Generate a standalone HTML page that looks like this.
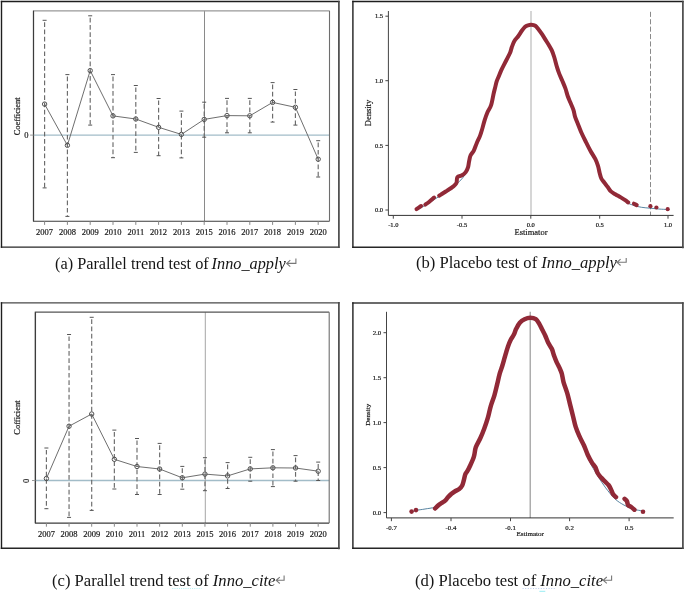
<!DOCTYPE html>
<html><head><meta charset="utf-8"><style>
html,body{margin:0;padding:0;background:#fff;}
body{width:685px;height:592px;position:relative;overflow:hidden;}
svg{position:absolute;left:0;top:0;will-change:transform;}
.cap{will-change:transform;}
svg text{stroke:#1a1a1a;stroke-width:0.2px;}
.cap{position:absolute;font-family:'Liberation Serif',serif;font-size:16.6px;color:#151515;white-space:nowrap;line-height:16.6px;height:17px;}
</style></head><body>
<svg width="685" height="592" viewBox="0 0 685 592">
<line x1="1.5" y1="1.5" x2="338.9" y2="1.5" stroke="#1e1e1e" stroke-width="1.4" stroke-linecap="square"/>
<line x1="1.5" y1="247.1" x2="338.9" y2="247.1" stroke="#262626" stroke-width="1.4" stroke-linecap="square"/>
<line x1="1.5" y1="1.5" x2="1.5" y2="247.1" stroke="#1e1e1e" stroke-width="1.4" stroke-linecap="square"/>
<line x1="338.9" y1="1.5" x2="338.9" y2="247.1" stroke="#4a4a4a" stroke-width="1.7" stroke-linecap="square"/>
<line x1="33.5" y1="135.1" x2="329.5" y2="135.1" stroke="#a2bcc8" stroke-width="1.3"/>
<line x1="204.50" y1="10.8" x2="204.50" y2="221.3" stroke="#8a8a8a" stroke-width="1"/>
<path d="M33.5,221.3 V10.8 H329.5" fill="none" stroke="#999" stroke-width="1.3"/>
<path d="M33.5,10.8 V221.3 H329.5" fill="none" stroke="#3c3c3c" stroke-width="1.1"/>
<line x1="329.5" y1="10.8" x2="329.5" y2="221.3" stroke="#6e6e6e" stroke-width="1.1"/>
<line x1="30.1" y1="135.1" x2="33.5" y2="135.1" stroke="#999" stroke-width="1"/>
<text x="26.3" y="138.3" style="font-family:'Liberation Serif',serif;font-size:8.5px" text-anchor="middle" fill="#222">0</text>
<text transform="translate(19.8,116.3) rotate(-90)" style="font-family:'Liberation Serif',serif;font-size:8.5px" text-anchor="middle" fill="#222">Coefficient</text>
<line x1="44.60" y1="221.3" x2="44.60" y2="224.9" stroke="#888" stroke-width="1"/>
<text x="44.60" y="235.4" style="font-family:'Liberation Serif',serif;font-size:8.5px" text-anchor="middle" fill="#1a1a1a">2007</text>
<line x1="67.40" y1="221.3" x2="67.40" y2="224.9" stroke="#888" stroke-width="1"/>
<text x="67.40" y="235.4" style="font-family:'Liberation Serif',serif;font-size:8.5px" text-anchor="middle" fill="#1a1a1a">2008</text>
<line x1="90.20" y1="221.3" x2="90.20" y2="224.9" stroke="#888" stroke-width="1"/>
<text x="90.20" y="235.4" style="font-family:'Liberation Serif',serif;font-size:8.5px" text-anchor="middle" fill="#1a1a1a">2009</text>
<line x1="113.00" y1="221.3" x2="113.00" y2="224.9" stroke="#888" stroke-width="1"/>
<text x="113.00" y="235.4" style="font-family:'Liberation Serif',serif;font-size:8.5px" text-anchor="middle" fill="#1a1a1a">2010</text>
<line x1="135.80" y1="221.3" x2="135.80" y2="224.9" stroke="#888" stroke-width="1"/>
<text x="135.80" y="235.4" style="font-family:'Liberation Serif',serif;font-size:8.5px" text-anchor="middle" fill="#1a1a1a">2011</text>
<line x1="158.60" y1="221.3" x2="158.60" y2="224.9" stroke="#888" stroke-width="1"/>
<text x="158.60" y="235.4" style="font-family:'Liberation Serif',serif;font-size:8.5px" text-anchor="middle" fill="#1a1a1a">2012</text>
<line x1="181.40" y1="221.3" x2="181.40" y2="224.9" stroke="#888" stroke-width="1"/>
<text x="181.40" y="235.4" style="font-family:'Liberation Serif',serif;font-size:8.5px" text-anchor="middle" fill="#1a1a1a">2013</text>
<line x1="204.20" y1="221.3" x2="204.20" y2="224.9" stroke="#888" stroke-width="1"/>
<text x="204.20" y="235.4" style="font-family:'Liberation Serif',serif;font-size:8.5px" text-anchor="middle" fill="#1a1a1a">2015</text>
<line x1="227.00" y1="221.3" x2="227.00" y2="224.9" stroke="#888" stroke-width="1"/>
<text x="227.00" y="235.4" style="font-family:'Liberation Serif',serif;font-size:8.5px" text-anchor="middle" fill="#1a1a1a">2016</text>
<line x1="249.80" y1="221.3" x2="249.80" y2="224.9" stroke="#888" stroke-width="1"/>
<text x="249.80" y="235.4" style="font-family:'Liberation Serif',serif;font-size:8.5px" text-anchor="middle" fill="#1a1a1a">2017</text>
<line x1="272.60" y1="221.3" x2="272.60" y2="224.9" stroke="#888" stroke-width="1"/>
<text x="272.60" y="235.4" style="font-family:'Liberation Serif',serif;font-size:8.5px" text-anchor="middle" fill="#1a1a1a">2018</text>
<line x1="295.40" y1="221.3" x2="295.40" y2="224.9" stroke="#888" stroke-width="1"/>
<text x="295.40" y="235.4" style="font-family:'Liberation Serif',serif;font-size:8.5px" text-anchor="middle" fill="#1a1a1a">2019</text>
<line x1="318.20" y1="221.3" x2="318.20" y2="224.9" stroke="#888" stroke-width="1"/>
<text x="318.20" y="235.4" style="font-family:'Liberation Serif',serif;font-size:8.5px" text-anchor="middle" fill="#1a1a1a">2020</text>
<line x1="44.60" y1="22.2" x2="44.60" y2="187.9" stroke="#6a6a6a" stroke-width="1.15" stroke-dasharray="4.7 2.6"/>
<line x1="42.60" y1="20.3" x2="46.60" y2="20.3" stroke="#555" stroke-width="1"/>
<line x1="42.60" y1="187.9" x2="46.60" y2="187.9" stroke="#555" stroke-width="1"/>
<line x1="67.40" y1="76.5" x2="67.40" y2="216.4" stroke="#6a6a6a" stroke-width="1.15" stroke-dasharray="4.7 2.6"/>
<line x1="65.40" y1="74.6" x2="69.40" y2="74.6" stroke="#555" stroke-width="1"/>
<line x1="65.40" y1="216.4" x2="69.40" y2="216.4" stroke="#555" stroke-width="1"/>
<line x1="90.20" y1="17.7" x2="90.20" y2="125.1" stroke="#6a6a6a" stroke-width="1.15" stroke-dasharray="4.7 2.6"/>
<line x1="88.20" y1="15.8" x2="92.20" y2="15.8" stroke="#555" stroke-width="1"/>
<line x1="88.20" y1="125.1" x2="92.20" y2="125.1" stroke="#555" stroke-width="1"/>
<line x1="113.00" y1="76.5" x2="113.00" y2="157.7" stroke="#6a6a6a" stroke-width="1.15" stroke-dasharray="4.7 2.6"/>
<line x1="111.00" y1="74.6" x2="115.00" y2="74.6" stroke="#555" stroke-width="1"/>
<line x1="111.00" y1="157.7" x2="115.00" y2="157.7" stroke="#555" stroke-width="1"/>
<line x1="135.80" y1="87.4" x2="135.80" y2="152.4" stroke="#6a6a6a" stroke-width="1.15" stroke-dasharray="4.7 2.6"/>
<line x1="133.80" y1="85.5" x2="137.80" y2="85.5" stroke="#555" stroke-width="1"/>
<line x1="133.80" y1="152.4" x2="137.80" y2="152.4" stroke="#555" stroke-width="1"/>
<line x1="158.60" y1="100.4" x2="158.60" y2="155.7" stroke="#6a6a6a" stroke-width="1.15" stroke-dasharray="4.7 2.6"/>
<line x1="156.60" y1="98.5" x2="160.60" y2="98.5" stroke="#555" stroke-width="1"/>
<line x1="156.60" y1="155.7" x2="160.60" y2="155.7" stroke="#555" stroke-width="1"/>
<line x1="181.40" y1="113.0" x2="181.40" y2="157.9" stroke="#6a6a6a" stroke-width="1.15" stroke-dasharray="4.7 2.6"/>
<line x1="179.40" y1="111.1" x2="183.40" y2="111.1" stroke="#555" stroke-width="1"/>
<line x1="179.40" y1="157.9" x2="183.40" y2="157.9" stroke="#555" stroke-width="1"/>
<line x1="204.20" y1="104.10000000000001" x2="204.20" y2="137.2" stroke="#6a6a6a" stroke-width="1.15" stroke-dasharray="4.7 2.6"/>
<line x1="202.20" y1="102.2" x2="206.20" y2="102.2" stroke="#555" stroke-width="1"/>
<line x1="202.20" y1="137.2" x2="206.20" y2="137.2" stroke="#555" stroke-width="1"/>
<line x1="227.00" y1="100.30000000000001" x2="227.00" y2="132.8" stroke="#6a6a6a" stroke-width="1.15" stroke-dasharray="4.7 2.6"/>
<line x1="225.00" y1="98.4" x2="229.00" y2="98.4" stroke="#555" stroke-width="1"/>
<line x1="225.00" y1="132.8" x2="229.00" y2="132.8" stroke="#555" stroke-width="1"/>
<line x1="249.80" y1="100.30000000000001" x2="249.80" y2="132.8" stroke="#6a6a6a" stroke-width="1.15" stroke-dasharray="4.7 2.6"/>
<line x1="247.80" y1="98.4" x2="251.80" y2="98.4" stroke="#555" stroke-width="1"/>
<line x1="247.80" y1="132.8" x2="251.80" y2="132.8" stroke="#555" stroke-width="1"/>
<line x1="272.60" y1="84.5" x2="272.60" y2="122.1" stroke="#6a6a6a" stroke-width="1.15" stroke-dasharray="4.7 2.6"/>
<line x1="270.60" y1="82.6" x2="274.60" y2="82.6" stroke="#555" stroke-width="1"/>
<line x1="270.60" y1="122.1" x2="274.60" y2="122.1" stroke="#555" stroke-width="1"/>
<line x1="295.40" y1="91.4" x2="295.40" y2="125.1" stroke="#6a6a6a" stroke-width="1.15" stroke-dasharray="4.7 2.6"/>
<line x1="293.40" y1="89.5" x2="297.40" y2="89.5" stroke="#555" stroke-width="1"/>
<line x1="293.40" y1="125.1" x2="297.40" y2="125.1" stroke="#555" stroke-width="1"/>
<line x1="318.20" y1="142.6" x2="318.20" y2="177" stroke="#6a6a6a" stroke-width="1.15" stroke-dasharray="4.7 2.6"/>
<line x1="316.20" y1="140.7" x2="320.20" y2="140.7" stroke="#555" stroke-width="1"/>
<line x1="316.20" y1="177" x2="320.20" y2="177" stroke="#555" stroke-width="1"/>
<polyline points="44.60,104.1 67.40,145.3 90.20,70.6 113.00,115.9 135.80,119 158.60,127.3 181.40,134.4 204.20,119.4 227.00,115.6 249.80,115.8 272.60,102.4 295.40,107.3 318.20,159.2" fill="none" stroke="#666" stroke-width="0.95"/>
<circle cx="44.60" cy="104.1" r="2.2" fill="none" stroke="#505050" stroke-width="1"/>
<circle cx="67.40" cy="145.3" r="2.2" fill="none" stroke="#505050" stroke-width="1"/>
<circle cx="90.20" cy="70.6" r="2.2" fill="none" stroke="#505050" stroke-width="1"/>
<circle cx="113.00" cy="115.9" r="2.2" fill="none" stroke="#505050" stroke-width="1"/>
<circle cx="135.80" cy="119" r="2.2" fill="none" stroke="#505050" stroke-width="1"/>
<circle cx="158.60" cy="127.3" r="2.2" fill="none" stroke="#505050" stroke-width="1"/>
<circle cx="181.40" cy="134.4" r="2.2" fill="none" stroke="#505050" stroke-width="1"/>
<circle cx="204.20" cy="119.4" r="2.2" fill="none" stroke="#505050" stroke-width="1"/>
<circle cx="227.00" cy="115.6" r="2.2" fill="none" stroke="#505050" stroke-width="1"/>
<circle cx="249.80" cy="115.8" r="2.2" fill="none" stroke="#505050" stroke-width="1"/>
<circle cx="272.60" cy="102.4" r="2.2" fill="none" stroke="#505050" stroke-width="1"/>
<circle cx="295.40" cy="107.3" r="2.2" fill="none" stroke="#505050" stroke-width="1"/>
<circle cx="318.20" cy="159.2" r="2.2" fill="none" stroke="#505050" stroke-width="1"/>
<line x1="352.9" y1="1.5" x2="682.9" y2="1.5" stroke="#1e1e1e" stroke-width="1.4" stroke-linecap="square"/>
<line x1="352.9" y1="247.3" x2="682.9" y2="247.3" stroke="#262626" stroke-width="1.4" stroke-linecap="square"/>
<line x1="352.9" y1="1.5" x2="352.9" y2="247.3" stroke="#1e1e1e" stroke-width="1.4" stroke-linecap="square"/>
<line x1="682.9" y1="1.5" x2="682.9" y2="247.3" stroke="#4a4a4a" stroke-width="1.7" stroke-linecap="square"/>
<line x1="531.0" y1="11" x2="531.0" y2="215.4" stroke="#bbb" stroke-width="1.2"/>
<line x1="650.5" y1="11.8" x2="650.5" y2="215.4" stroke="#8a8a8a" stroke-width="1" stroke-dasharray="5.1 2.3"/>
<line x1="388.4" y1="11" x2="388.4" y2="215.4" stroke="#444" stroke-width="1"/>
<line x1="388.4" y1="215.4" x2="673.6" y2="215.4" stroke="#333" stroke-width="1"/>
<line x1="385.4" y1="210" x2="388.4" y2="210" stroke="#444" stroke-width="1"/>
<text x="383.09999999999997" y="212.2" style="font-family:'Liberation Serif',serif;font-size:6.5px" text-anchor="end" fill="#111">0.0</text>
<line x1="385.4" y1="145.4" x2="388.4" y2="145.4" stroke="#444" stroke-width="1"/>
<text x="383.09999999999997" y="147.6" style="font-family:'Liberation Serif',serif;font-size:6.5px" text-anchor="end" fill="#111">0.5</text>
<line x1="385.4" y1="80.7" x2="388.4" y2="80.7" stroke="#444" stroke-width="1"/>
<text x="383.09999999999997" y="82.9" style="font-family:'Liberation Serif',serif;font-size:6.5px" text-anchor="end" fill="#111">1.0</text>
<line x1="385.4" y1="16.2" x2="388.4" y2="16.2" stroke="#444" stroke-width="1"/>
<text x="383.09999999999997" y="18.4" style="font-family:'Liberation Serif',serif;font-size:6.5px" text-anchor="end" fill="#111">1.5</text>
<line x1="393.3" y1="215.4" x2="393.3" y2="218.70000000000002" stroke="#444" stroke-width="1"/>
<text x="393.3" y="226.6" style="font-family:'Liberation Serif',serif;font-size:6.5px" text-anchor="middle" fill="#111">-1.0</text>
<line x1="462" y1="215.4" x2="462" y2="218.70000000000002" stroke="#444" stroke-width="1"/>
<text x="462" y="226.6" style="font-family:'Liberation Serif',serif;font-size:6.5px" text-anchor="middle" fill="#111">-0.5</text>
<line x1="530.8" y1="215.4" x2="530.8" y2="218.70000000000002" stroke="#444" stroke-width="1"/>
<text x="530.8" y="226.6" style="font-family:'Liberation Serif',serif;font-size:6.5px" text-anchor="middle" fill="#111">0.0</text>
<line x1="599.7" y1="215.4" x2="599.7" y2="218.70000000000002" stroke="#444" stroke-width="1"/>
<text x="599.7" y="226.6" style="font-family:'Liberation Serif',serif;font-size:6.5px" text-anchor="middle" fill="#111">0.5</text>
<line x1="668" y1="215.4" x2="668" y2="218.70000000000002" stroke="#444" stroke-width="1"/>
<text x="668" y="226.6" style="font-family:'Liberation Serif',serif;font-size:6.5px" text-anchor="middle" fill="#111">1.0</text>
<text x="531.0" y="235" style="font-family:'Liberation Serif',serif;font-size:8.5px" text-anchor="middle" fill="#222">Estimator</text>
<text transform="translate(371.2,113) rotate(-90)" style="font-family:'Liberation Serif',serif;font-size:8.5px" text-anchor="middle" fill="#222">Density</text>
<path d="M416.50,209.60 C417.92,208.92 421.92,207.27 425.00,205.50 C428.08,203.73 431.67,201.12 435.00,199.00 C438.33,196.88 441.67,195.05 445.00,192.80 C448.33,190.55 452.00,188.05 455.00,185.50 C458.00,182.95 460.83,180.42 463.00,177.50 C465.17,174.58 467.17,169.58 468.00,168.00" fill="none" stroke="#2d6489" stroke-width="0.8"/>
<path d="M626.00,202.50 C627.33,203.00 631.40,204.70 634.00,205.50 C636.60,206.30 638.87,206.85 641.60,207.30 C644.33,207.75 647.12,207.88 650.40,208.20 C653.68,208.52 658.42,209.00 661.30,209.20 C664.18,209.40 666.63,209.37 667.70,209.40" fill="none" stroke="#2d6489" stroke-width="0.8"/>
<path d="M416.50,209.20 C417.27,208.67 420.33,206.53 421.10,206.00" fill="none" stroke="#912937" stroke-width="4.0" stroke-linecap="round" stroke-linejoin="round"/>
<path d="M425.30,204.60 C425.92,204.17 427.53,203.17 429.00,202.00 C430.47,200.83 433.25,198.33 434.10,197.60" fill="none" stroke="#912937" stroke-width="4.0" stroke-linecap="round" stroke-linejoin="round"/>
<path d="M439.20,195.70 C439.83,195.30 441.68,194.15 443.00,193.30 C444.32,192.45 445.48,191.67 447.10,190.60 C448.72,189.53 451.15,188.13 452.70,186.90 C454.25,185.67 455.62,184.82 456.40,183.20 C457.18,181.58 456.47,178.52 457.40,177.20 C458.33,175.88 460.62,176.15 462.00,175.30 C463.38,174.45 464.70,173.42 465.70,172.10 C466.70,170.78 467.43,169.18 468.00,167.40 C468.57,165.62 468.67,163.42 469.10,161.40 C469.53,159.38 469.83,157.07 470.60,155.30 C471.37,153.53 472.68,152.82 473.70,150.80 C474.72,148.78 475.63,145.73 476.70,143.20 C477.77,140.67 479.13,138.13 480.10,135.60 C481.07,133.07 481.75,130.53 482.50,128.00 C483.25,125.47 483.80,122.93 484.60,120.40 C485.40,117.87 486.22,115.33 487.30,112.80 C488.38,110.27 490.05,108.38 491.10,105.20 C492.15,102.02 492.93,96.62 493.60,93.70 C494.27,90.78 494.60,89.72 495.10,87.70 C495.60,85.68 496.00,83.47 496.60,81.60 C497.20,79.73 497.93,78.37 498.70,76.50 C499.47,74.63 500.28,72.42 501.20,70.40 C502.12,68.38 503.18,66.42 504.20,64.40 C505.22,62.38 506.28,60.33 507.30,58.30 C508.32,56.27 509.55,54.05 510.30,52.20 C511.05,50.35 511.12,49.05 511.80,47.20 C512.48,45.35 513.30,42.97 514.40,41.10 C515.50,39.23 517.17,37.72 518.40,36.00 C519.63,34.28 520.68,32.33 521.80,30.80 C522.92,29.27 524.07,27.72 525.10,26.80 C526.13,25.88 526.98,25.63 528.00,25.30 C529.02,24.97 529.98,24.72 531.20,24.80 C532.42,24.88 534.07,25.02 535.30,25.80 C536.53,26.58 537.48,28.10 538.60,29.50 C539.72,30.90 540.87,32.52 542.00,34.20 C543.13,35.88 544.27,37.80 545.40,39.60 C546.53,41.40 547.73,43.20 548.80,45.00 C549.87,46.80 550.90,48.40 551.80,50.40 C552.70,52.40 553.33,54.22 554.20,57.00 C555.07,59.78 556.15,64.28 557.00,67.10 C557.85,69.92 558.42,71.62 559.30,73.90 C560.18,76.18 561.28,78.38 562.30,80.80 C563.32,83.22 564.50,85.87 565.40,88.40 C566.30,90.93 566.87,93.63 567.70,96.00 C568.53,98.37 569.43,100.25 570.40,102.60 C571.37,104.95 572.72,107.72 573.50,110.10 C574.28,112.48 574.27,114.35 575.10,116.90 C575.93,119.45 577.37,122.58 578.50,125.40 C579.63,128.22 580.63,130.98 581.90,133.80 C583.17,136.62 584.68,139.48 586.10,142.30 C587.52,145.12 588.85,147.88 590.40,150.70 C591.95,153.52 594.13,156.67 595.40,159.20 C596.67,161.73 597.30,163.65 598.00,165.90 C598.70,168.15 599.05,170.60 599.60,172.70 C600.15,174.80 600.50,176.83 601.30,178.50 C602.10,180.17 603.33,181.28 604.40,182.70 C605.47,184.12 606.62,185.55 607.70,187.00 C608.78,188.45 609.63,190.20 610.90,191.40 C612.17,192.60 613.65,193.20 615.30,194.20 C616.95,195.20 619.15,196.40 620.80,197.40 C622.45,198.40 623.97,199.37 625.20,200.20 C626.43,201.03 627.70,202.03 628.20,202.40" fill="none" stroke="#912937" stroke-width="4.0" stroke-linecap="round" stroke-linejoin="round"/>
<path d="M633.90,203.70 C634.37,203.93 636.23,204.87 636.70,205.10" fill="none" stroke="#912937" stroke-width="4.0" stroke-linecap="round" stroke-linejoin="round"/>
<circle cx="650.4" cy="206.2" r="2.1" fill="#912937"/>
<circle cx="656.4" cy="207.5" r="2.1" fill="#912937"/>
<circle cx="667.7" cy="209.2" r="2.1" fill="#912937"/>
<line x1="1.5" y1="302.9" x2="338.9" y2="302.9" stroke="#484848" stroke-width="1.4" stroke-linecap="square"/>
<line x1="1.5" y1="548.3" x2="338.9" y2="548.3" stroke="#262626" stroke-width="1.4" stroke-linecap="square"/>
<line x1="1.5" y1="302.9" x2="1.5" y2="548.3" stroke="#1e1e1e" stroke-width="1.4" stroke-linecap="square"/>
<line x1="338.9" y1="302.9" x2="338.9" y2="548.3" stroke="#4a4a4a" stroke-width="1.7" stroke-linecap="square"/>
<line x1="35.4" y1="480.5" x2="329.2" y2="480.5" stroke="#a2bcc8" stroke-width="1.3"/>
<line x1="205.30" y1="312.2" x2="205.30" y2="523.1" stroke="#a5a5a5" stroke-width="1"/>
<path d="M35.4,523.1 V312.2 H329.2" fill="none" stroke="#555" stroke-width="1.3"/>
<path d="M35.4,312.2 V523.1 H329.2" fill="none" stroke="#3c3c3c" stroke-width="1.1"/>
<line x1="329.2" y1="312.2" x2="329.2" y2="523.1" stroke="#6e6e6e" stroke-width="1.1"/>
<line x1="32.0" y1="480.5" x2="35.4" y2="480.5" stroke="#999" stroke-width="1"/>
<text transform="translate(29,480.9) rotate(-90)" style="font-family:'Liberation Serif',serif;font-size:8.5px" text-anchor="middle" fill="#222">0</text>
<text transform="translate(19.9,417.6) rotate(-90)" style="font-family:'Liberation Serif',serif;font-size:8.5px" text-anchor="middle" fill="#222">Cofficient</text>
<line x1="46.40" y1="523.1" x2="46.40" y2="526.7" stroke="#888" stroke-width="1"/>
<text x="46.40" y="537.2" style="font-family:'Liberation Serif',serif;font-size:8.5px" text-anchor="middle" fill="#1a1a1a">2007</text>
<line x1="69.05" y1="523.1" x2="69.05" y2="526.7" stroke="#888" stroke-width="1"/>
<text x="69.05" y="537.2" style="font-family:'Liberation Serif',serif;font-size:8.5px" text-anchor="middle" fill="#1a1a1a">2008</text>
<line x1="91.70" y1="523.1" x2="91.70" y2="526.7" stroke="#888" stroke-width="1"/>
<text x="91.70" y="537.2" style="font-family:'Liberation Serif',serif;font-size:8.5px" text-anchor="middle" fill="#1a1a1a">2009</text>
<line x1="114.35" y1="523.1" x2="114.35" y2="526.7" stroke="#888" stroke-width="1"/>
<text x="114.35" y="537.2" style="font-family:'Liberation Serif',serif;font-size:8.5px" text-anchor="middle" fill="#1a1a1a">2010</text>
<line x1="137.00" y1="523.1" x2="137.00" y2="526.7" stroke="#888" stroke-width="1"/>
<text x="137.00" y="537.2" style="font-family:'Liberation Serif',serif;font-size:8.5px" text-anchor="middle" fill="#1a1a1a">2011</text>
<line x1="159.65" y1="523.1" x2="159.65" y2="526.7" stroke="#888" stroke-width="1"/>
<text x="159.65" y="537.2" style="font-family:'Liberation Serif',serif;font-size:8.5px" text-anchor="middle" fill="#1a1a1a">2012</text>
<line x1="182.30" y1="523.1" x2="182.30" y2="526.7" stroke="#888" stroke-width="1"/>
<text x="182.30" y="537.2" style="font-family:'Liberation Serif',serif;font-size:8.5px" text-anchor="middle" fill="#1a1a1a">2013</text>
<line x1="204.95" y1="523.1" x2="204.95" y2="526.7" stroke="#888" stroke-width="1"/>
<text x="204.95" y="537.2" style="font-family:'Liberation Serif',serif;font-size:8.5px" text-anchor="middle" fill="#1a1a1a">2015</text>
<line x1="227.60" y1="523.1" x2="227.60" y2="526.7" stroke="#888" stroke-width="1"/>
<text x="227.60" y="537.2" style="font-family:'Liberation Serif',serif;font-size:8.5px" text-anchor="middle" fill="#1a1a1a">2016</text>
<line x1="250.25" y1="523.1" x2="250.25" y2="526.7" stroke="#888" stroke-width="1"/>
<text x="250.25" y="537.2" style="font-family:'Liberation Serif',serif;font-size:8.5px" text-anchor="middle" fill="#1a1a1a">2017</text>
<line x1="272.90" y1="523.1" x2="272.90" y2="526.7" stroke="#888" stroke-width="1"/>
<text x="272.90" y="537.2" style="font-family:'Liberation Serif',serif;font-size:8.5px" text-anchor="middle" fill="#1a1a1a">2018</text>
<line x1="295.55" y1="523.1" x2="295.55" y2="526.7" stroke="#888" stroke-width="1"/>
<text x="295.55" y="537.2" style="font-family:'Liberation Serif',serif;font-size:8.5px" text-anchor="middle" fill="#1a1a1a">2019</text>
<line x1="318.20" y1="523.1" x2="318.20" y2="526.7" stroke="#888" stroke-width="1"/>
<text x="318.20" y="537.2" style="font-family:'Liberation Serif',serif;font-size:8.5px" text-anchor="middle" fill="#1a1a1a">2020</text>
<line x1="46.40" y1="449.9" x2="46.40" y2="508.7" stroke="#6a6a6a" stroke-width="1.15" stroke-dasharray="4.7 2.6"/>
<line x1="44.40" y1="448" x2="48.40" y2="448" stroke="#555" stroke-width="1"/>
<line x1="44.40" y1="508.7" x2="48.40" y2="508.7" stroke="#555" stroke-width="1"/>
<line x1="69.05" y1="336.4" x2="69.05" y2="517.4" stroke="#6a6a6a" stroke-width="1.15" stroke-dasharray="4.7 2.6"/>
<line x1="67.05" y1="334.5" x2="71.05" y2="334.5" stroke="#555" stroke-width="1"/>
<line x1="67.05" y1="517.4" x2="71.05" y2="517.4" stroke="#555" stroke-width="1"/>
<line x1="91.70" y1="319.2" x2="91.70" y2="510.4" stroke="#6a6a6a" stroke-width="1.15" stroke-dasharray="4.7 2.6"/>
<line x1="89.70" y1="317.3" x2="93.70" y2="317.3" stroke="#555" stroke-width="1"/>
<line x1="89.70" y1="510.4" x2="93.70" y2="510.4" stroke="#555" stroke-width="1"/>
<line x1="114.35" y1="432.0" x2="114.35" y2="489" stroke="#6a6a6a" stroke-width="1.15" stroke-dasharray="4.7 2.6"/>
<line x1="112.35" y1="430.1" x2="116.35" y2="430.1" stroke="#555" stroke-width="1"/>
<line x1="112.35" y1="489" x2="116.35" y2="489" stroke="#555" stroke-width="1"/>
<line x1="137.00" y1="440.4" x2="137.00" y2="494.5" stroke="#6a6a6a" stroke-width="1.15" stroke-dasharray="4.7 2.6"/>
<line x1="135.00" y1="438.5" x2="139.00" y2="438.5" stroke="#555" stroke-width="1"/>
<line x1="135.00" y1="494.5" x2="139.00" y2="494.5" stroke="#555" stroke-width="1"/>
<line x1="159.65" y1="445.29999999999995" x2="159.65" y2="494.5" stroke="#6a6a6a" stroke-width="1.15" stroke-dasharray="4.7 2.6"/>
<line x1="157.65" y1="443.4" x2="161.65" y2="443.4" stroke="#555" stroke-width="1"/>
<line x1="157.65" y1="494.5" x2="161.65" y2="494.5" stroke="#555" stroke-width="1"/>
<line x1="182.30" y1="468.29999999999995" x2="182.30" y2="489.2" stroke="#6a6a6a" stroke-width="1.15" stroke-dasharray="4.7 2.6"/>
<line x1="180.30" y1="466.4" x2="184.30" y2="466.4" stroke="#555" stroke-width="1"/>
<line x1="180.30" y1="489.2" x2="184.30" y2="489.2" stroke="#555" stroke-width="1"/>
<line x1="204.95" y1="459.59999999999997" x2="204.95" y2="490.7" stroke="#6a6a6a" stroke-width="1.15" stroke-dasharray="4.7 2.6"/>
<line x1="202.95" y1="457.7" x2="206.95" y2="457.7" stroke="#555" stroke-width="1"/>
<line x1="202.95" y1="490.7" x2="206.95" y2="490.7" stroke="#555" stroke-width="1"/>
<line x1="227.60" y1="464.5" x2="227.60" y2="488.5" stroke="#6a6a6a" stroke-width="1.15" stroke-dasharray="4.7 2.6"/>
<line x1="225.60" y1="462.6" x2="229.60" y2="462.6" stroke="#555" stroke-width="1"/>
<line x1="225.60" y1="488.5" x2="229.60" y2="488.5" stroke="#555" stroke-width="1"/>
<line x1="250.25" y1="459.2" x2="250.25" y2="481.2" stroke="#6a6a6a" stroke-width="1.15" stroke-dasharray="4.7 2.6"/>
<line x1="248.25" y1="457.3" x2="252.25" y2="457.3" stroke="#555" stroke-width="1"/>
<line x1="248.25" y1="481.2" x2="252.25" y2="481.2" stroke="#555" stroke-width="1"/>
<line x1="272.90" y1="451.5" x2="272.90" y2="486.6" stroke="#6a6a6a" stroke-width="1.15" stroke-dasharray="4.7 2.6"/>
<line x1="270.90" y1="449.6" x2="274.90" y2="449.6" stroke="#555" stroke-width="1"/>
<line x1="270.90" y1="486.6" x2="274.90" y2="486.6" stroke="#555" stroke-width="1"/>
<line x1="295.55" y1="457.5" x2="295.55" y2="481.2" stroke="#6a6a6a" stroke-width="1.15" stroke-dasharray="4.7 2.6"/>
<line x1="293.55" y1="455.6" x2="297.55" y2="455.6" stroke="#555" stroke-width="1"/>
<line x1="293.55" y1="481.2" x2="297.55" y2="481.2" stroke="#555" stroke-width="1"/>
<line x1="318.20" y1="464.0" x2="318.20" y2="480.5" stroke="#6a6a6a" stroke-width="1.15" stroke-dasharray="4.7 2.6"/>
<line x1="316.20" y1="462.1" x2="320.20" y2="462.1" stroke="#555" stroke-width="1"/>
<line x1="316.20" y1="480.5" x2="320.20" y2="480.5" stroke="#555" stroke-width="1"/>
<polyline points="46.40,478.5 69.05,426.2 91.70,414 114.35,459.3 137.00,466.5 159.65,469 182.30,477.8 204.95,474.1 227.60,475.9 250.25,468.9 272.90,467.8 295.55,468 318.20,471.2" fill="none" stroke="#666" stroke-width="0.95"/>
<circle cx="46.40" cy="478.5" r="2.2" fill="none" stroke="#505050" stroke-width="1"/>
<circle cx="69.05" cy="426.2" r="2.2" fill="none" stroke="#505050" stroke-width="1"/>
<circle cx="91.70" cy="414" r="2.2" fill="none" stroke="#505050" stroke-width="1"/>
<circle cx="114.35" cy="459.3" r="2.2" fill="none" stroke="#505050" stroke-width="1"/>
<circle cx="137.00" cy="466.5" r="2.2" fill="none" stroke="#505050" stroke-width="1"/>
<circle cx="159.65" cy="469" r="2.2" fill="none" stroke="#505050" stroke-width="1"/>
<circle cx="182.30" cy="477.8" r="2.2" fill="none" stroke="#505050" stroke-width="1"/>
<circle cx="204.95" cy="474.1" r="2.2" fill="none" stroke="#505050" stroke-width="1"/>
<circle cx="227.60" cy="475.9" r="2.2" fill="none" stroke="#505050" stroke-width="1"/>
<circle cx="250.25" cy="468.9" r="2.2" fill="none" stroke="#505050" stroke-width="1"/>
<circle cx="272.90" cy="467.8" r="2.2" fill="none" stroke="#505050" stroke-width="1"/>
<circle cx="295.55" cy="468" r="2.2" fill="none" stroke="#505050" stroke-width="1"/>
<circle cx="318.20" cy="471.2" r="2.2" fill="none" stroke="#505050" stroke-width="1"/>
<line x1="352.9" y1="303.0" x2="682.9" y2="303.0" stroke="#3a3a3a" stroke-width="1.4" stroke-linecap="square"/>
<line x1="352.9" y1="548.2" x2="682.9" y2="548.2" stroke="#262626" stroke-width="1.4" stroke-linecap="square"/>
<line x1="352.9" y1="303.0" x2="352.9" y2="548.2" stroke="#1e1e1e" stroke-width="1.4" stroke-linecap="square"/>
<line x1="682.9" y1="303.0" x2="682.9" y2="548.2" stroke="#4a4a4a" stroke-width="1.7" stroke-linecap="square"/>
<line x1="530.2" y1="311.8" x2="530.2" y2="517.9" stroke="#999" stroke-width="1.2"/>
<line x1="386.5" y1="311.8" x2="386.5" y2="517.9" stroke="#444" stroke-width="1"/>
<line x1="386.5" y1="517.9" x2="673.7" y2="517.9" stroke="#333" stroke-width="1"/>
<line x1="383.5" y1="512.6" x2="386.5" y2="512.6" stroke="#444" stroke-width="1"/>
<text x="381.2" y="514.8000000000001" style="font-family:'Liberation Serif',serif;font-size:6.8px" text-anchor="end" fill="#111">0.0</text>
<line x1="383.5" y1="467.6" x2="386.5" y2="467.6" stroke="#444" stroke-width="1"/>
<text x="381.2" y="469.8" style="font-family:'Liberation Serif',serif;font-size:6.8px" text-anchor="end" fill="#111">0.5</text>
<line x1="383.5" y1="422.6" x2="386.5" y2="422.6" stroke="#444" stroke-width="1"/>
<text x="381.2" y="424.8" style="font-family:'Liberation Serif',serif;font-size:6.8px" text-anchor="end" fill="#111">1.0</text>
<line x1="383.5" y1="377.7" x2="386.5" y2="377.7" stroke="#444" stroke-width="1"/>
<text x="381.2" y="379.9" style="font-family:'Liberation Serif',serif;font-size:6.8px" text-anchor="end" fill="#111">1.5</text>
<line x1="383.5" y1="332.7" x2="386.5" y2="332.7" stroke="#444" stroke-width="1"/>
<text x="381.2" y="334.9" style="font-family:'Liberation Serif',serif;font-size:6.8px" text-anchor="end" fill="#111">2.0</text>
<line x1="391.4" y1="517.9" x2="391.4" y2="521.1999999999999" stroke="#444" stroke-width="1"/>
<text x="391.4" y="529.5" style="font-family:'Liberation Serif',serif;font-size:6.8px" text-anchor="middle" fill="#111">-0.7</text>
<line x1="451" y1="517.9" x2="451" y2="521.1999999999999" stroke="#444" stroke-width="1"/>
<text x="451" y="529.5" style="font-family:'Liberation Serif',serif;font-size:6.8px" text-anchor="middle" fill="#111">-0.4</text>
<line x1="510.5" y1="517.9" x2="510.5" y2="521.1999999999999" stroke="#444" stroke-width="1"/>
<text x="510.5" y="529.5" style="font-family:'Liberation Serif',serif;font-size:6.8px" text-anchor="middle" fill="#111">-0.1</text>
<line x1="569.6" y1="517.9" x2="569.6" y2="521.1999999999999" stroke="#444" stroke-width="1"/>
<text x="569.6" y="529.5" style="font-family:'Liberation Serif',serif;font-size:6.8px" text-anchor="middle" fill="#111">0.2</text>
<line x1="629.1" y1="517.9" x2="629.1" y2="521.1999999999999" stroke="#444" stroke-width="1"/>
<text x="629.1" y="529.5" style="font-family:'Liberation Serif',serif;font-size:6.8px" text-anchor="middle" fill="#111">0.5</text>
<text x="530.2" y="536.4" style="font-family:'Liberation Serif',serif;font-size:7.1px" text-anchor="middle" fill="#222">Estimator</text>
<text transform="translate(369.6,414.8) rotate(-90)" style="font-family:'Liberation Serif',serif;font-size:7.1px" text-anchor="middle" fill="#222">Density</text>
<path d="M411.60,511.80 C412.33,511.57 413.77,510.87 416.00,510.40 C418.23,509.93 421.82,509.57 425.00,509.00 C428.18,508.43 431.77,508.25 435.10,507.00 C438.43,505.75 443.35,502.42 445.00,501.50" fill="none" stroke="#2d6489" stroke-width="0.8"/>
<path d="M589.00,460.00 C589.48,461.02 590.27,463.17 591.90,466.10 C593.53,469.03 596.50,473.97 598.80,477.60 C601.10,481.23 603.02,484.37 605.70,487.90 C608.38,491.43 611.85,495.93 614.90,498.80 C617.95,501.67 620.95,503.38 624.00,505.10 C627.05,506.82 630.13,508.13 633.20,509.10 C636.27,510.07 640.87,510.60 642.40,510.90" fill="none" stroke="#2d6489" stroke-width="0.8"/>
<path d="M435.10,508.50 C435.70,507.92 437.58,505.93 438.70,505.00 C439.82,504.07 440.68,503.67 441.80,502.90 C442.92,502.13 444.38,501.33 445.40,500.40 C446.42,499.47 446.88,498.42 447.90,497.30 C448.92,496.18 450.30,494.72 451.50,493.70 C452.70,492.68 453.82,491.97 455.10,491.20 C456.38,490.43 458.02,490.05 459.20,489.10 C460.38,488.15 461.43,486.95 462.20,485.50 C462.97,484.05 463.28,482.27 463.80,480.40 C464.32,478.53 464.72,475.83 465.30,474.30 C465.88,472.77 466.58,472.45 467.30,471.20 C468.02,469.95 468.50,469.23 469.60,466.80 C470.70,464.37 472.87,459.85 473.90,456.60 C474.93,453.35 474.72,450.40 475.80,447.30 C476.88,444.20 479.00,441.10 480.40,438.00 C481.80,434.90 482.95,432.10 484.20,428.70 C485.45,425.30 486.82,421.32 487.90,417.60 C488.98,413.88 489.62,410.12 490.70,406.40 C491.78,402.68 493.32,399.02 494.40,395.30 C495.48,391.58 496.32,387.72 497.20,384.10 C498.08,380.48 498.88,376.53 499.70,373.60 C500.52,370.67 501.30,369.07 502.10,366.50 C502.90,363.93 503.82,360.57 504.50,358.20 C505.18,355.83 505.62,354.27 506.20,352.30 C506.78,350.33 507.30,348.37 508.00,346.40 C508.70,344.43 509.42,342.47 510.40,340.50 C511.38,338.53 512.92,336.58 513.90,334.60 C514.88,332.62 515.32,330.58 516.30,328.60 C517.28,326.62 518.42,324.27 519.80,322.70 C521.18,321.13 522.87,320.02 524.60,319.20 C526.33,318.38 528.33,317.80 530.20,317.80 C532.07,317.80 534.28,318.18 535.80,319.20 C537.32,320.22 538.22,322.13 539.30,323.90 C540.38,325.67 541.30,327.83 542.30,329.80 C543.30,331.77 544.32,333.53 545.30,335.70 C546.28,337.87 547.12,340.62 548.20,342.80 C549.28,344.98 550.82,346.63 551.80,348.80 C552.78,350.97 553.32,353.63 554.10,355.80 C554.88,357.97 555.62,359.82 556.50,361.80 C557.38,363.78 558.52,365.73 559.40,367.70 C560.28,369.67 561.10,371.17 561.80,373.60 C562.50,376.03 562.68,379.00 563.60,382.30 C564.52,385.60 566.22,389.68 567.30,393.40 C568.38,397.12 569.17,400.88 570.10,404.60 C571.03,408.32 571.97,411.98 572.90,415.70 C573.83,419.42 574.62,423.48 575.70,426.90 C576.78,430.32 578.02,433.10 579.40,436.20 C580.78,439.30 582.62,442.42 584.00,445.50 C585.38,448.58 586.38,451.85 587.70,454.70 C589.02,457.55 590.63,460.52 591.90,462.60 C593.17,464.68 594.35,465.47 595.30,467.20 C596.25,468.93 596.63,471.27 597.60,473.00 C598.57,474.73 599.85,476.17 601.10,477.60 C602.35,479.03 603.87,480.37 605.10,481.60 C606.33,482.83 607.55,483.77 608.50,485.00 C609.45,486.23 610.03,487.47 610.80,489.00 C611.57,490.53 612.23,492.85 613.10,494.20 C613.97,495.55 615.52,496.62 616.00,497.10" fill="none" stroke="#912937" stroke-width="4.5" stroke-linecap="round" stroke-linejoin="round"/>
<path d="M624.60,498.80 C624.98,499.18 626.32,500.05 626.90,501.10 C627.48,502.15 627.43,504.15 628.10,505.10 C628.77,506.05 629.85,506.03 630.90,506.80 C631.95,507.57 633.82,509.22 634.40,509.70" fill="none" stroke="#912937" stroke-width="4.5" stroke-linecap="round" stroke-linejoin="round"/>
<circle cx="411.6" cy="511.6" r="2.3" fill="#912937"/>
<circle cx="416" cy="510.1" r="2.3" fill="#912937"/>
<circle cx="643" cy="511.7" r="2.3" fill="#912937"/>
<path d="M295.9,258.6 V263.4 H286.7 M290.3,260.2 L286.7,263.4 L290.3,266.59999999999997" fill="none" stroke="#777" stroke-width="1.1"/>
<path d="M626.2,257.9 V262.3 H617.0 M620.6,259.1 L617.0,262.3 L620.6,265.5" fill="none" stroke="#777" stroke-width="1.1"/>
<path d="M284.1,575.5 V580.3 H276.2 M279.8,577.0999999999999 L276.2,580.3 L279.8,583.5" fill="none" stroke="#777" stroke-width="1.1"/>
<path d="M611.6,575.5 V580.2 H603.2 M606.8000000000001,577.0 L603.2,580.2 L606.8000000000001,583.4000000000001" fill="none" stroke="#777" stroke-width="1.1"/>
<line x1="172.3" y1="588.6" x2="201.5" y2="588.6" stroke="#7ee8f0" stroke-width="0.8" stroke-dasharray="1 1.2" opacity="0.8"/>
<line x1="522.6" y1="588.6" x2="554.7" y2="588.6" stroke="#7aa0e0" stroke-width="0.8" stroke-dasharray="1 1.6" opacity="0.7"/>
<line x1="539.4" y1="591.3" x2="545.3" y2="591.3" stroke="#7ee8f0" stroke-width="1" opacity="0.8"/>
</svg>
<div class="cap" style="left:55.4px;top:255.9px;font-size:16.3px">(a) Parallel trend test of <i style="margin-left:-1.2px">Inno_apply</i></div>
<div class="cap" style="left:416.2px;top:255.2px">(b) Placebo test of <i>Inno_apply</i></div>
<div class="cap" style="left:52.1px;top:572.5px">(c) Parallel trend test of <i>Inno_cite</i></div>
<div class="cap" style="left:415px;top:572.5px">(d) Placebo test of <i>Inno_cite</i></div>
</body></html>
